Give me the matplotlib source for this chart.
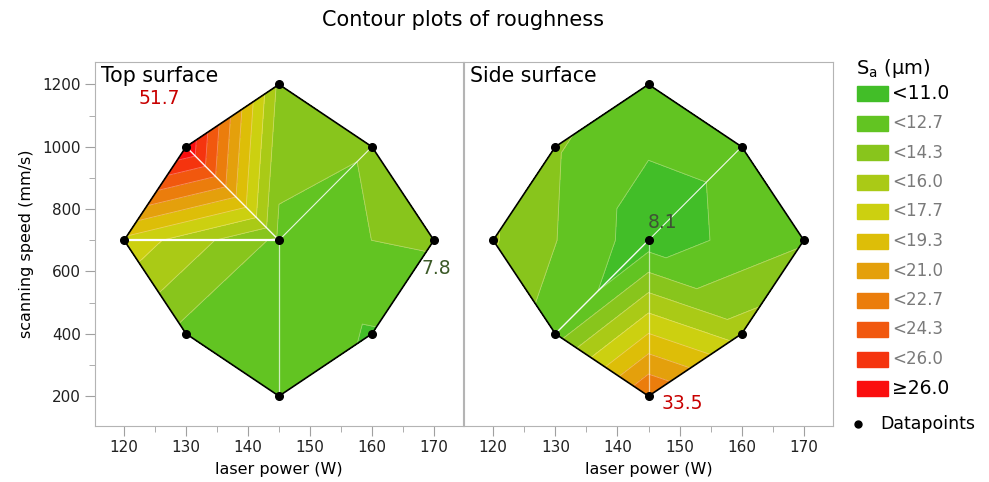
import numpy as np
import matplotlib
matplotlib.use("Agg")
import matplotlib.pyplot as plt
import matplotlib.tri as mtri
from matplotlib.patches import Rectangle

# design points: N, NE, E, SE, S, SW, W, NW, centre
laser_power = [145, 160, 170, 160, 145, 130, 120, 130, 145]
scan_speed = [1200, 1000, 700, 400, 200, 400, 700, 1000, 700]

# Sa values used for the contour surface
top_sa = [13.9, 12.74, 12.92, 10.85, 11.8, 12.1, 17.2, 27.5, 12.3]
side_sa = [11.9, 11.58, 12.45, 15.1, 22.8, 11.8, 14.5, 12.85, 10.05]

# extreme values written on the panels: (point index, text)
top_notes = [(7, "51.7"), (2, "7.8")]
side_notes = [(8, "8.1"), (4, "33.5")]

levels = [0, 11.0, 12.67, 14.33, 16.0, 17.67, 19.33, 21.0, 22.67, 24.33, 26.0, 200]
level_labels = ["<11.0", "<12.7", "<14.3", "<16.0", "<17.7", "<19.3",
                "<21.0", "<22.7", "<24.3", "<26.0", "\u226526.0"]
band_colors = ["#42be28", "#62c422", "#88c51c", "#aaca16", "#ccd010", "#ddbe08",
               "#e4a00c", "#eb7d0c", "#f1580e", "#f5340e", "#fa0e0e"]

# fan triangulation around the centre point
triangles = [[8, i, (i + 1) % 8] for i in range(8)]
tri = mtri.Triangulation(laser_power, scan_speed, triangles)

fig = plt.figure(figsize=(9.89, 4.82), dpi=100)
W, H = 989, 482
ax1 = fig.add_axes([95 / W, 56 / H, 368 / W, 364 / H])
ax2 = fig.add_axes([464 / W, 56 / H, 369 / W, 364 / H])

outline = list(range(8)) + [0]
lp = np.array(laser_power)
ss = np.array(scan_speed)


def draw_panel(ax, values, seams, title, notes, note_offsets, note_colors):
    ax.tricontourf(tri, values, levels=levels, colors=band_colors)
    ax.tricontour(tri, values, levels=levels[1:-1], colors="white",
                  linewidths=0.6, alpha=0.35)
    for (a, b), lw, al in seams:
        ax.plot(lp[[a, b]], ss[[a, b]], color="white", lw=lw, alpha=al)
    ax.plot(lp[outline], ss[outline], color="black", lw=1.2)
    ax.plot(lp, ss, "o", color="black", ms=5.5)
    for (i, txt), off, col in zip(notes, note_offsets, note_colors):
        ax.annotate(txt, (lp[i], ss[i]), xytext=off, textcoords="offset points",
                    ha="center", va="center", fontsize=13.5, color=col)
    ax.text(0.015, 0.988, title, transform=ax.transAxes, fontsize=14.8,
            ha="left", va="top")
    ax.set_xlim(115.3, 174.7)
    ax.set_ylim(104, 1272)
    ax.set_xticks([120, 130, 140, 150, 160, 170])
    ax.set_xticks(np.arange(125, 175, 10), minor=True)
    ax.set_xlabel("laser power (W)", fontsize=11.5, labelpad=5)
    for sp in ax.spines.values():
        sp.set_color("#b4b4b4")
    ax.tick_params(which="major", length=7, color="#a0a0a0", labelsize=11,
                   labelcolor="#202020", pad=3)
    ax.tick_params(which="minor", length=4, color="#a0a0a0")


draw_panel(ax1, top_sa,
           [((8, 6), 1.6, 1.0), ((8, 7), 1.0, 0.95), ((8, 1), 0.8, 0.85), ((8, 4), 0.9, 0.7)],
           "Top surface", top_notes, [(-19, 35), (2, -20)], ["#c80000", "#3c5a28"])
draw_panel(ax2, side_sa,
           [((5, 8), 1.0, 0.95), ((8, 1), 0.8, 0.9), ((8, 4), 0.9, 0.6)],
           "Side surface", side_notes, [(10, 13), (24, -5)], ["#3f5335", "#c80000"])

ax1.set_yticks([200, 400, 600, 800, 1000, 1200])
ax1.set_yticks(np.arange(300, 1300, 200), minor=True)
ax1.set_ylabel("scanning speed (mm/s)", fontsize=11.5, labelpad=6)
ax2.set_yticks([])
ax2.set_yticks([], minor=True)

fig.text(463 / W, 1 - 20 / H, "Contour plots of roughness", ha="center",
         va="center", fontsize=15)

# legend drawn in pixel coordinates on an overlay axes
leg = fig.add_axes([0, 0, 1, 1], facecolor="none")
leg.set_xlim(0, W)
leg.set_ylim(H, 0)
leg.axis("off")
leg.text(856, 68, r"$\mathregular{S_a}$ (µm)", fontsize=14, ha="left", va="center")
for k, (lab, col) in enumerate(zip(level_labels, band_colors)):
    yc = 93.5 + 29.5 * k
    leg.add_patch(Rectangle((857, yc - 7.5), 31, 15, color=col))
    edge = k in (0, len(level_labels) - 1)
    leg.text(892, yc, lab, fontsize=13.5 if edge else 12,
             color="black" if edge else "#7a7a7a", ha="left", va="center")
leg.plot([858], [424], "o", color="black", ms=5)
leg.text(880, 424, "Datapoints", fontsize=12.5, ha="left", va="center")

fig.savefig("out.png", dpi=100)
